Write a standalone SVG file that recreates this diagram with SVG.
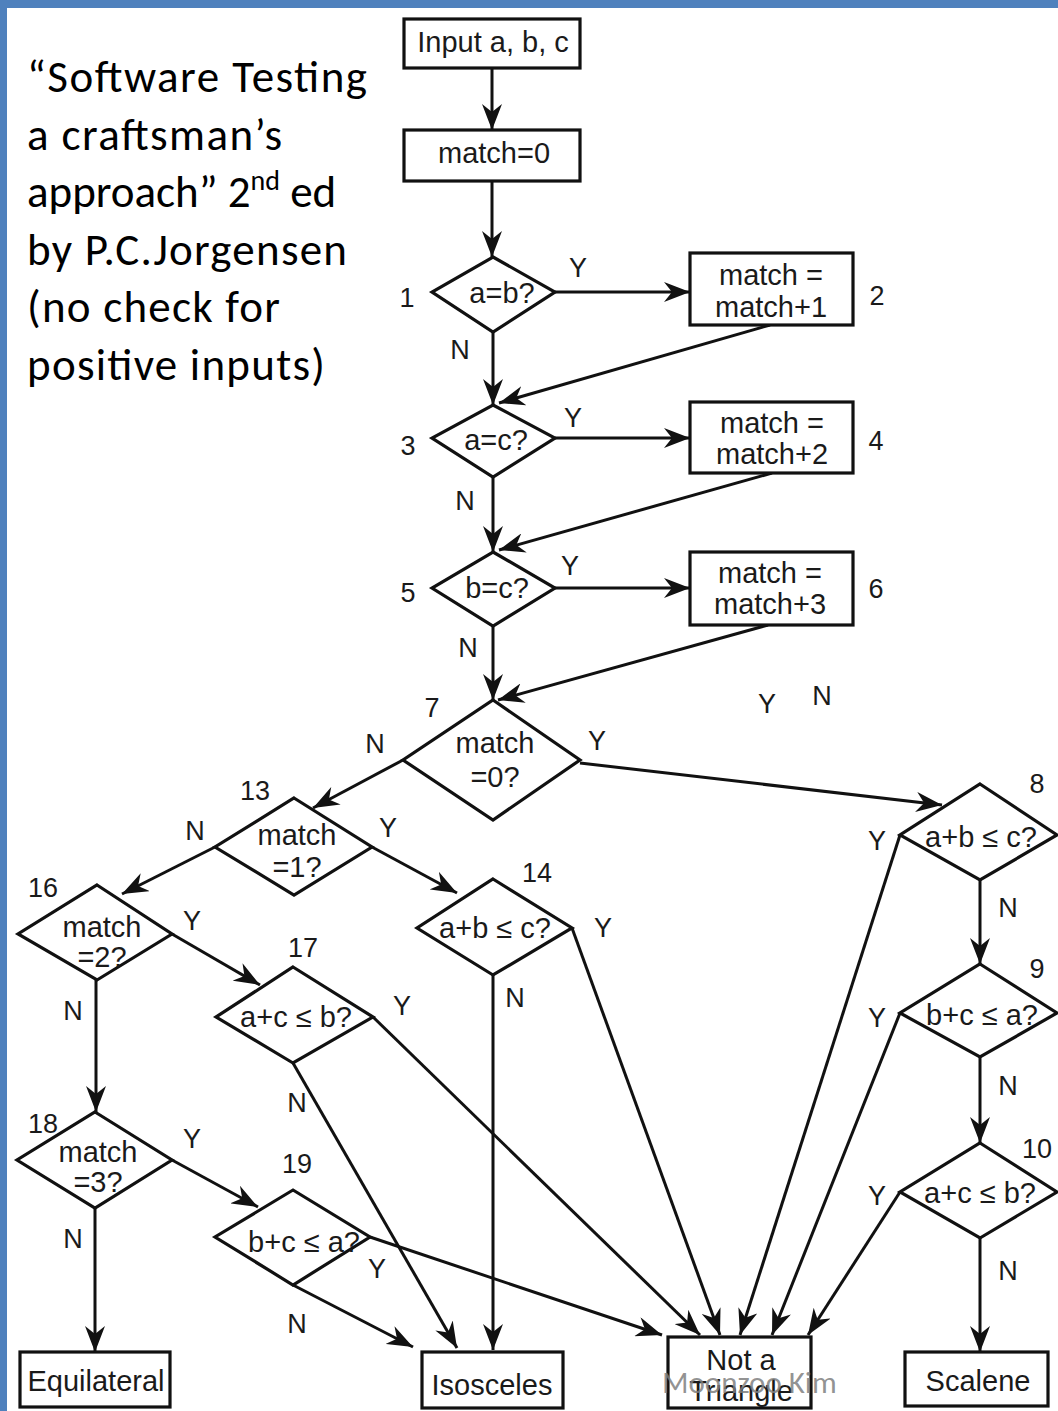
<svg xmlns="http://www.w3.org/2000/svg" width="1058" height="1411" viewBox="0 0 1058 1411">
<defs>
<style>
.shape{fill:#fff;stroke:#111;stroke-width:3.2;}
.t{font-family:"Liberation Sans",Arial,sans-serif;font-size:29px;fill:#1a1a1a;text-anchor:middle;}
.lb{font-family:"Liberation Sans",Arial,sans-serif;font-size:27px;fill:#1a1a1a;text-anchor:middle;}
.side{font-family:Calibri,Carlito,Lato,sans-serif;font-size:45px;fill:#000;}
.wm{font-family:Calibri,Carlito,Lato,sans-serif;font-size:31px;fill:#7f7f7f;fill-opacity:0.85;}
.c line{stroke:#111;stroke-width:3;fill:none;marker-end:url(#ah);}
</style>
<marker id="ah" markerUnits="userSpaceOnUse" viewBox="0 0 26 20" markerWidth="26" markerHeight="20" refX="26" refY="10" orient="auto">
<path d="M0,0 L26,10 L0,20 L8,10 z" fill="#111"/>
</marker>
</defs>
<rect width="1058" height="1411" fill="#fff"/>
<rect x="0" y="0" width="1058" height="8" fill="#4f81bd"/>
<rect x="0" y="0" width="7" height="1411" fill="#4f81bd"/>

<g id="caption">
<text class="side" x="27" y="92" textLength="340" lengthAdjust="spacing">“Software Testing</text>
<text class="side" x="27" y="150" textLength="255" lengthAdjust="spacing">a craftsman’s</text>
<text class="side" x="27" y="207">approach” 2<tspan dy="-17" font-size="28">nd</tspan><tspan dy="17"> ed</tspan></text>
<text class="side" x="27" y="265" textLength="320" lengthAdjust="spacing">by P.C.Jorgensen</text>
<text class="side" x="27" y="322" textLength="253" lengthAdjust="spacing">(no check for</text>
<text class="side" x="27" y="380" textLength="298" lengthAdjust="spacing">positive inputs)</text>
</g>

<g class="c" id="connectors">
<line x1="492" y1="68" x2="492" y2="130"/>
<line x1="492" y1="181" x2="492" y2="257"/>
<line x1="555" y1="292" x2="690" y2="292"/>
<line x1="493" y1="332" x2="493" y2="405"/>
<line x1="770" y1="325" x2="499" y2="403"/>
<line x1="555" y1="438" x2="690" y2="438"/>
<line x1="493" y1="477" x2="493" y2="552"/>
<line x1="772" y1="473" x2="499" y2="550"/>
<line x1="555" y1="588" x2="690" y2="588"/>
<line x1="493" y1="626" x2="493" y2="700"/>
<line x1="768" y1="625" x2="498" y2="700"/>
<line x1="403" y1="760" x2="313" y2="808"/>
<line x1="580" y1="763" x2="942" y2="805"/>
<line x1="372" y1="847" x2="457" y2="893"/>
<line x1="215" y1="847" x2="122" y2="894"/>
<line x1="493" y1="975" x2="493" y2="1350"/>
<line x1="572" y1="928" x2="720" y2="1335"/>
<line x1="980" y1="880" x2="980" y2="964"/>
<line x1="900" y1="835" x2="740" y2="1335"/>
<line x1="980" y1="1057" x2="980" y2="1143"/>
<line x1="900" y1="1013" x2="772" y2="1335"/>
<line x1="980" y1="1238" x2="980" y2="1352"/>
<line x1="900" y1="1192" x2="808" y2="1335"/>
<line x1="172" y1="934" x2="260" y2="985"/>
<line x1="96" y1="980" x2="96" y2="1112"/>
<line x1="373" y1="1017" x2="700" y2="1335"/>
<line x1="293" y1="1063" x2="457" y2="1348"/>
<line x1="172" y1="1160" x2="258" y2="1207"/>
<line x1="95" y1="1208" x2="95" y2="1352"/>
<line x1="370" y1="1237" x2="662" y2="1335"/>
<line x1="293" y1="1285" x2="413" y2="1347"/>
</g>

<g id="input"><rect class="shape" x="404" y="19" width="176" height="49"/><text class="t" x="493" y="52">Input a, b, c</text></g>
<g id="init"><rect class="shape" x="404" y="130" width="176" height="51"/><text class="t" x="494" y="163">match=0</text></g>

<g id="n1"><polygon class="shape" points="493,257 555,292 493,332 432,292"/><text class="t" x="502" y="303">a=b?</text></g>
<g id="n2"><rect class="shape" x="690" y="253" width="163" height="72"/><text class="t" x="771" y="285">match =</text><text class="t" x="771" y="317">match+1</text></g>
<g id="n3"><polygon class="shape" points="493,405 555,438 493,477 432,438"/><text class="t" x="496" y="450">a=c?</text></g>
<g id="n4"><rect class="shape" x="690" y="402" width="163" height="71"/><text class="t" x="772" y="433">match =</text><text class="t" x="772" y="464">match+2</text></g>
<g id="n5"><polygon class="shape" points="493,552 555,588 493,626 432,588"/><text class="t" x="497" y="598">b=c?</text></g>
<g id="n6"><rect class="shape" x="690" y="552" width="163" height="73"/><text class="t" x="770" y="583">match =</text><text class="t" x="770" y="614">match+3</text></g>

<g id="n7"><polygon class="shape" points="493,700 580,760 493,820 403,760"/><text class="t" x="495" y="753">match</text><text class="t" x="495" y="787">=0?</text></g>
<g id="n13"><polygon class="shape" points="294,798 372,847 294,895 215,847"/><text class="t" x="297" y="845">match</text><text class="t" x="297" y="877">=1?</text></g>
<g id="n14"><polygon class="shape" points="493,879 572,928 493,975 417,928"/><text class="t" x="495" y="938">a+b ≤ c?</text></g>
<g id="n8"><polygon class="shape" points="980,784 1057,835 980,880 900,835"/><text class="t" x="981" y="847">a+b ≤ c?</text></g>
<g id="n9"><polygon class="shape" points="980,964 1057,1013 980,1057 900,1013"/><text class="t" x="982" y="1025">b+c ≤ a?</text></g>
<g id="n10"><polygon class="shape" points="980,1143 1057,1192 980,1238 900,1192"/><text class="t" x="980" y="1203">a+c ≤ b?</text></g>
<g id="n16"><polygon class="shape" points="97,885 172,934 97,980 18,934"/><text class="t" x="102" y="937">match</text><text class="t" x="102" y="967">=2?</text></g>
<g id="n17"><polygon class="shape" points="293,967 373,1017 293,1063 216,1017"/><text class="t" x="296" y="1027">a+c ≤ b?</text></g>
<g id="n18"><polygon class="shape" points="95,1112 172,1160 95,1208 17,1160"/><text class="t" x="98" y="1162">match</text><text class="t" x="98" y="1192">=3?</text></g>
<g id="n19"><polygon class="shape" points="293,1190 370,1237 293,1285 215,1237"/><text class="t" x="304" y="1252">b+c ≤ a?</text></g>

<g id="equilateral"><rect class="shape" x="20" y="1352" width="150" height="55"/><text class="t" x="96" y="1391">Equilateral</text></g>
<g id="isosceles"><rect class="shape" x="422" y="1352" width="141" height="56"/><text class="t" x="492" y="1395">Isosceles</text></g>
<g id="nat"><rect class="shape" x="668" y="1337" width="143" height="71"/><text class="t" x="741" y="1370">Not a</text><text class="t" x="741" y="1401">Triangle</text></g>
<g id="scalene"><rect class="shape" x="905" y="1352" width="143" height="54"/><text class="t" x="978" y="1391">Scalene</text></g>

<g id="labels">
<text class="lb" x="407" y="307">1</text>
<text class="lb" x="877" y="305">2</text>
<text class="lb" x="578" y="277">Y</text>
<text class="lb" x="460" y="359">N</text>
<text class="lb" x="408" y="455">3</text>
<text class="lb" x="876" y="450">4</text>
<text class="lb" x="573" y="427">Y</text>
<text class="lb" x="465" y="510">N</text>
<text class="lb" x="408" y="602">5</text>
<text class="lb" x="876" y="598">6</text>
<text class="lb" x="570" y="575">Y</text>
<text class="lb" x="468" y="657">N</text>
<text class="lb" x="767" y="713">Y</text>
<text class="lb" x="822" y="705">N</text>
<text class="lb" x="432" y="717">7</text>
<text class="lb" x="375" y="753">N</text>
<text class="lb" x="597" y="750">Y</text>
<text class="lb" x="255" y="800">13</text>
<text class="lb" x="195" y="840">N</text>
<text class="lb" x="388" y="837">Y</text>
<text class="lb" x="537" y="882">14</text>
<text class="lb" x="603" y="937">Y</text>
<text class="lb" x="515" y="1007">N</text>
<text class="lb" x="1037" y="793">8</text>
<text class="lb" x="877" y="850">Y</text>
<text class="lb" x="1008" y="917">N</text>
<text class="lb" x="1037" y="978">9</text>
<text class="lb" x="877" y="1027">Y</text>
<text class="lb" x="1008" y="1095">N</text>
<text class="lb" x="1037" y="1158">10</text>
<text class="lb" x="877" y="1205">Y</text>
<text class="lb" x="1008" y="1280">N</text>
<text class="lb" x="43" y="897">16</text>
<text class="lb" x="192" y="930">Y</text>
<text class="lb" x="73" y="1020">N</text>
<text class="lb" x="303" y="957">17</text>
<text class="lb" x="402" y="1015">Y</text>
<text class="lb" x="297" y="1112">N</text>
<text class="lb" x="43" y="1133">18</text>
<text class="lb" x="192" y="1148">Y</text>
<text class="lb" x="73" y="1248">N</text>
<text class="lb" x="297" y="1173">19</text>
<text class="lb" x="377" y="1278">Y</text>
<text class="lb" x="297" y="1333">N</text>
</g>

<text class="wm" x="662" y="1393">Moonzoo Kim</text>
</svg>
